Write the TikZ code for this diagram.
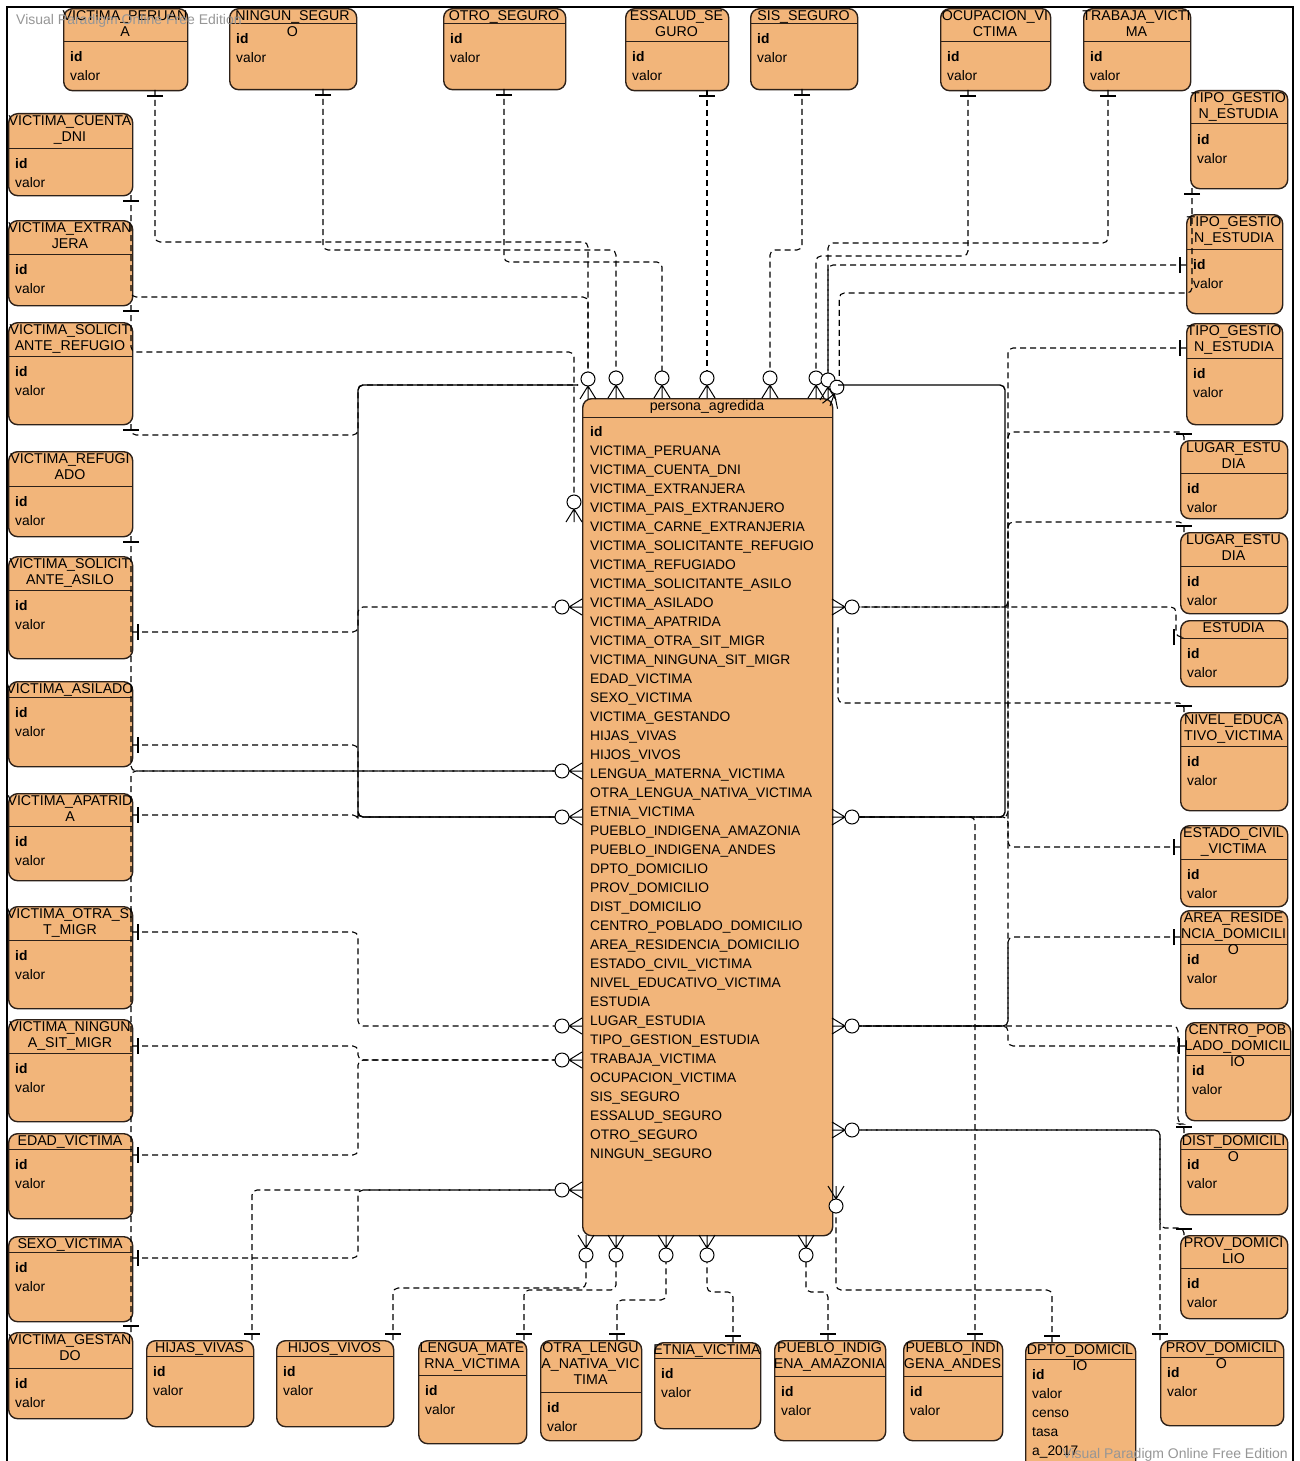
\documentclass[tikz,border=0pt]{standalone}
\usepackage{fontspec}
\setmainfont{Liberation Sans}
\usetikzlibrary{positioning}
\definecolor{tabla}{RGB}{242,181,122}
\definecolor{borde}{RGB}{45,33,25}
\definecolor{marca}{RGB}{150,150,150}

% tabla: nombre, x, y, ancho, alto, cabecera, titulo
\newcommand{\entidad}[7]{%
  \node[caja,minimum width=#4,minimum height=#5,anchor=north west] (#1) at (#2,#3) {};
  \draw[borde,line width=1pt] (#2,{#3+#6}) -- ({#2+#4},{#3+#6});
  \node[titulo] at ({#2+#4/2},{#3+2}) {#7};
  \node[campo] at ({#2+7},{#3+#6+20}) {\bfseries id};
  \node[campo] at ({#2+7},{#3+#6+39}) {valor};
}
% cero o muchos / uno
\newcommand{\muchos}[4]{\pic[rotate={0-(#4)}] at (#2,#3) {muchos}; \path (#2,#3) ++(#4:27) coordinate (#1);}
\newcommand{\uno}[4]{\pic[rotate={0-(#4)}] at (#2,#3) {uno}; \coordinate (#1) at (#2,#3);}

\begin{document}
\begin{tikzpicture}[x=1pt,y=-1pt,
 caja/.style={draw=borde,line width=1.4pt,fill=tabla,rounded corners=9pt,inner sep=0pt},
 titulo/.style={anchor=north,align=center,inner sep=0pt,font=\fontsize{14.2}{16}\selectfont},
 campo/.style={anchor=base west,inner sep=0pt,font=\fontsize{13.8}{19}\selectfont},
 rel/.style={draw=black,line width=1.1pt,dash pattern=on 6pt off 4pt,rounded corners=5pt},
 solida/.style={draw=black,line width=1.4pt,rounded corners=5pt},
 muchos/.pic={\draw[line width=1pt] (13,0) -- (0,8) (13,0) -- (0,0) (13,0) -- (0,-8);
   \draw[line width=1pt,fill=white] (20,0) circle[radius=7];},
 uno/.pic={\draw[line width=1.1pt] (6,-8) -- (6,8);}]
\useasboundingbox (0,0) rectangle (1300,1461);
\draw[line width=1.8pt] (7,1470) -- (7,7) -- (1293,7) -- (1293,1470);

% fila superior
\entidad{vPer}{63}{8}{124}{82}{34}{VICTIMA\_PERUAN\\A}
\entidad{nSeg}{229}{8}{127}{81}{16}{NINGUN\_SEGUR\\O}
\entidad{oSeg}{443}{8}{122}{81}{16}{OTRO\_SEGURO}
\entidad{eSeg}{625}{8}{103}{82}{34}{ESSALUD\_SE\\GURO}
\entidad{sSeg}{750}{8}{107}{81}{16}{SIS\_SEGURO}
\entidad{ocup}{940}{8}{110}{82}{34}{OCUPACION\_VI\\CTIMA}
\entidad{trab}{1083}{8}{107}{82}{34}{TRABAJA\_VICTI\\MA}
% columna derecha
\entidad{tg1}{1190}{90}{97}{98}{34}{TIPO\_GESTIO\\N\_ESTUDIA}
\entidad{tg2}{1186}{214}{96}{99}{35}{TIPO\_GESTIO\\N\_ESTUDIA}
\entidad{tg3}{1186}{323}{96}{101}{35}{TIPO\_GESTIO\\N\_ESTUDIA}
\entidad{lu1}{1180}{440}{107}{78}{33}{LUGAR\_ESTU\\DIA}
\entidad{lu2}{1180}{532}{107}{81}{34}{LUGAR\_ESTU\\DIA}
\entidad{estu}{1180}{620}{107}{66}{18}{ESTUDIA}
\entidad{nive}{1180}{712}{107}{98}{34}{NIVEL\_EDUCA\\TIVO\_VICTIMA}
\entidad{esta}{1180}{825}{107}{81}{34}{ESTADO\_CIVIL\\\_VICTIMA}
\entidad{area}{1180}{910}{107}{98}{34}{AREA\_RESIDE\\NCIA\_DOMICILI\\O}
\entidad{cent}{1185}{1022}{105}{98}{33}{CENTRO\_POB\\LADO\_DOMICIL\\IO}
\entidad{dist}{1180}{1133}{107}{81}{16}{DIST\_DOMICILI\\O}
\entidad{prvr}{1180}{1235}{107}{83}{33}{PROV\_DOMICI\\LIO}
% columna izquierda
\entidad{cDni}{8}{113}{124}{82}{35}{VICTIMA\_CUENTA\\\_DNI}
\entidad{vExt}{8}{220}{124}{85}{34}{VICTIMA\_EXTRAN\\JERA}
\entidad{sRef}{8}{322}{124}{102}{34}{VICTIMA\_SOLICIT\\ANTE\_REFUGIO}
\entidad{vRef}{8}{451}{124}{85}{35}{VICTIMA\_REFUGI\\ADO}
\entidad{sAsi}{8}{556}{124}{102}{34}{VICTIMA\_SOLICIT\\ANTE\_ASILO}
\entidad{vAsi}{8}{681}{124}{85}{16}{VICTIMA\_ASILADO}
\entidad{vApa}{8}{793}{124}{87}{33}{VICTIMA\_APATRID\\A}
\entidad{oSit}{8}{906}{124}{102}{34}{VICTIMA\_OTRA\_SI\\T\_MIGR}
\entidad{nSit}{8}{1019}{124}{102}{34}{VICTIMA\_NINGUN\\A\_SIT\_MIGR}
\entidad{edad}{8}{1133}{124}{85}{16}{EDAD\_VICTIMA}
\entidad{sexo}{8}{1236}{124}{85}{16}{SEXO\_VICTIMA}
\entidad{gest}{8}{1332}{124}{86}{36}{VICTIMA\_GESTAN\\DO}
% fila inferior
\entidad{hijas}{146}{1340}{107}{86}{16}{HIJAS\_VIVAS}
\entidad{hijos}{276}{1340}{117}{86}{16}{HIJOS\_VIVOS}
\entidad{leng}{418}{1340}{108}{103}{35}{LENGUA\_MATE\\RNA\_VICTIMA}
\entidad{oLen}{540}{1340}{101}{100}{52}{OTRA\_LENGU\\A\_NATIVA\_VIC\\TIMA}
\entidad{etni}{654}{1342}{106}{86}{16}{ETNIA\_VICTIMA}
\entidad{amaz}{774}{1340}{111}{100}{36}{PUEBLO\_INDIG\\ENA\_AMAZONIA}
\entidad{ande}{903}{1340}{99}{100}{36}{PUEBLO\_INDI\\GENA\_ANDES}
\entidad{dpto}{1025}{1342}{110}{128}{17}{DPTO\_DOMICIL\\IO}
\node[campo] at (1032,1417) {censo};
\node[campo] at (1032,1436) {tasa};
\node[campo] at (1032,1455) {a\_2017};
\entidad{prvb}{1160}{1340}{123}{85}{17}{PROV\_DOMICILI\\O}

% tabla central
\node[caja,minimum width=250,minimum height=837,anchor=north west] (persona) at (582,398) {};
\draw[borde,line width=1pt] (582,417) -- (832,417);
\node[titulo] at (707,400) {persona\_agredida};
\node[campo] at (590,436) {\bfseries id};
\foreach \atr [count=\i] in {VICTIMA\_PERUANA,VICTIMA\_CUENTA\_DNI,VICTIMA\_EXTRANJERA,
  VICTIMA\_PAIS\_EXTRANJERO,VICTIMA\_CARNE\_EXTRANJERIA,VICTIMA\_SOLICITANTE\_REFUGIO,
  VICTIMA\_REFUGIADO,VICTIMA\_SOLICITANTE\_ASILO,VICTIMA\_ASILADO,VICTIMA\_APATRIDA,
  VICTIMA\_OTRA\_SIT\_MIGR,VICTIMA\_NINGUNA\_SIT\_MIGR,EDAD\_VICTIMA,SEXO\_VICTIMA,
  VICTIMA\_GESTANDO,HIJAS\_VIVAS,HIJOS\_VIVOS,LENGUA\_MATERNA\_VICTIMA,
  OTRA\_LENGUA\_NATIVA\_VICTIMA,ETNIA\_VICTIMA,PUEBLO\_INDIGENA\_AMAZONIA,
  PUEBLO\_INDIGENA\_ANDES,DPTO\_DOMICILIO,PROV\_DOMICILIO,DIST\_DOMICILIO,
  CENTRO\_POBLADO\_DOMICILIO,AREA\_RESIDENCIA\_DOMICILIO,ESTADO\_CIVIL\_VICTIMA,
  NIVEL\_EDUCATIVO\_VICTIMA,ESTUDIA,LUGAR\_ESTUDIA,TIPO\_GESTION\_ESTUDIA,
  TRABAJA\_VICTIMA,OCUPACION\_VICTIMA,SIS\_SEGURO,ESSALUD\_SEGURO,OTRO\_SEGURO,
  NINGUN\_SEGURO}
  \node[campo] at (590,{436+19*\i}) {\atr};

% extremos muchos
\muchos{cT1}{588}{399}{-90}
\muchos{cT2}{616}{398}{-90}
\muchos{cT3}{662}{398}{-90}
\muchos{cT4}{707}{398}{-90}
\muchos{cT5}{770}{398}{-90}
\muchos{cT6}{816}{398}{-90}
\muchos{cT7}{828}{400}{-90}
\muchos{cC1}{830}{406}{-70}
\muchos{cLa}{574}{522}{-90}
\muchos{cL1}{582}{607}{180}
\muchos{cL2}{582}{771}{180}
\muchos{cL3}{582}{817}{180}
\muchos{cL4}{582}{1026}{180}
\muchos{cL5}{582}{1060}{180}
\muchos{cL6}{582}{1190}{180}
\muchos{cR1}{832}{607}{0}
\muchos{cR2}{832}{817}{0}
\muchos{cR3}{832}{1026}{0}
\muchos{cR4}{832}{1130}{0}
\muchos{cBR}{836}{1186}{90}
\muchos{cB1}{586}{1235}{90}
\muchos{cB2}{616}{1235}{90}
\muchos{cB3}{666}{1235}{90}
\muchos{cB4}{707}{1235}{90}
\muchos{cB5}{806}{1235}{90}

% extremos uno
\uno{bPer}{155}{90}{90}
\uno{bNin}{323}{89}{90}
\uno{bOtr}{504}{89}{90}
\uno{bEss}{707}{90}{90}
\uno{bSis}{802}{89}{90}
\uno{bOcu}{968}{90}{90}
\uno{bTra}{1108}{90}{90}
\uno{bTg1}{1192}{188}{90}
\uno{bTg2}{1186}{265}{180}
\uno{bTg3}{1186}{348}{180}
\uno{bLu1}{1184}{440}{-90}
\uno{bLu2}{1184}{532}{-90}
\uno{bEst}{1180}{637}{180}
\uno{bNiv}{1184}{712}{-90}
\uno{bEsc}{1180}{847}{180}
\uno{bAre}{1180}{937}{180}
\uno{bCen}{1185}{1046}{180}
\uno{bDis}{1184}{1133}{-90}
\uno{bPrr}{1184}{1235}{-90}
\uno{bDni}{131}{195}{90}
\uno{bExt}{131}{305}{90}
\uno{bSre}{131}{424}{90}
\uno{bRef}{131}{536}{90}
\uno{bSas}{132}{632}{0}
\uno{bAsi}{132}{745}{0}
\uno{bApa}{132}{815}{0}
\uno{bOsm}{132}{932}{0}
\uno{bNsm}{132}{1046}{0}
\uno{bEda}{132}{1155}{0}
\uno{bSex}{132}{1258}{0}
\uno{bGes}{131}{1332}{-90}
\uno{bHja}{252}{1340}{-90}
\uno{bHjo}{393}{1340}{-90}
\uno{bLen}{524}{1340}{-90}
\uno{bOle}{617}{1340}{-90}
\uno{bEtn}{733}{1342}{-90}
\uno{bAma}{828}{1340}{-90}
\uno{bAnd}{975}{1340}{-90}
\uno{bDpt}{1052}{1342}{-90}
\uno{bPrb}{1160}{1340}{-90}
\coordinate (eSol) at (578,385);
\coordinate (eSolR) at (838,385);
\coordinate (fNiv) at (838,624);

% relaciones
\draw[rel] (bPer) -- (155,242) -| (cT1);
\draw[rel] (bNin) -- (323,250) -| (cT2);
\draw[rel] (bOtr) -- (504,262) -| (cT3);
\draw[rel] (bEss) -- (cT4);
\draw[rel] (bSis) -- (802,250) -| (cT5);
\draw[rel] (bOcu) -- (968,256) -| (cT6);
\draw[rel] (bTra) -- (1108,243) -| (cT7);
\draw[rel] (bTg1) -- (1192,293) -| (cC1);
\draw[rel] (bTg2) -| (cT7);
\draw[rel] (bTg3) -- (1008,348) |- (cR1);
\draw[rel] (bLu1) |- (1008,432) |- (cR3);
\draw[rel] (bLu2) |- (1008,522) |- (cR2);
\draw[rel] (bEst) -- (1176,637) |- (cR1);
\draw[rel] (bNiv) |- (838,703) -- (fNiv);
\draw[rel] (bEsc) -- (1008,847) |- (cR2);
\draw[rel] (bAre) -- (1008,937) |- (cR3);
\draw[rel] (bCen) -- (1008,1046) |- (cR3);
\draw[rel] (bDis) |- (1178,1124) |- (cR3);
\draw[rel] (bPrr) |- (1160,1228) |- (cR4);
\draw[rel] (bPrb) |- (cR4);
\draw[rel] (bAnd) |- (cR2);
\draw[rel] (bDpt) -- (1052,1290) -| (cBR);
\draw[rel] (bAma) -- (828,1292) -| (cB5);
\draw[rel] (bEtn) -- (733,1292) -| (cB4);
\draw[rel] (bOle) -- (617,1300) -| (cB3);
\draw[rel] (bLen) -- (524,1290) -| (cB2);
\draw[rel] (bHjo) -- (393,1288) -| (cB1);
\draw[rel] (bHja) |- (cL6);
\draw[rel] (bDni) -- (131,297) -| (cT1);
\draw[rel] (bExt) -- (131,352) -| (cLa);
\draw[rel] (bSre) -- (131,435) -- (358,435) |- (eSol);
\draw[rel] (bRef) |- (cL2);
\draw[rel] (bGes) |- (cL2);
\draw[rel] (bSas) -- (358,632) |- (cL1);
\draw[rel] (bAsi) -- (358,745) |- (cL3);
\draw[rel] (bApa) -- (358,815) |- (cL3);
\draw[rel] (bOsm) -- (358,932) |- (cL4);
\draw[rel] (bNsm) -- (358,1046) |- (cL5);
\draw[rel] (bEda) -- (358,1155) |- (cL5);
\draw[rel] (bSex) -- (358,1258) |- (cL6);
\draw[solida] (eSol) -- (358,385) |- (cL3);
\draw[solida] (eSolR) -- (1005,385) |- (cR2);

% marca de agua
\node[anchor=base west,text=marca,font=\fontsize{14}{16}\selectfont,inner sep=0pt] (wm1) at (16,25) {Visual Paradigm Online Free Edition};
\node[anchor=base east,text=marca,font=\fontsize{14}{16}\selectfont,inner sep=0pt] (wm2) at (1288,1458) {Visual Paradigm Online Free Edition};
\end{tikzpicture}
\end{document}
